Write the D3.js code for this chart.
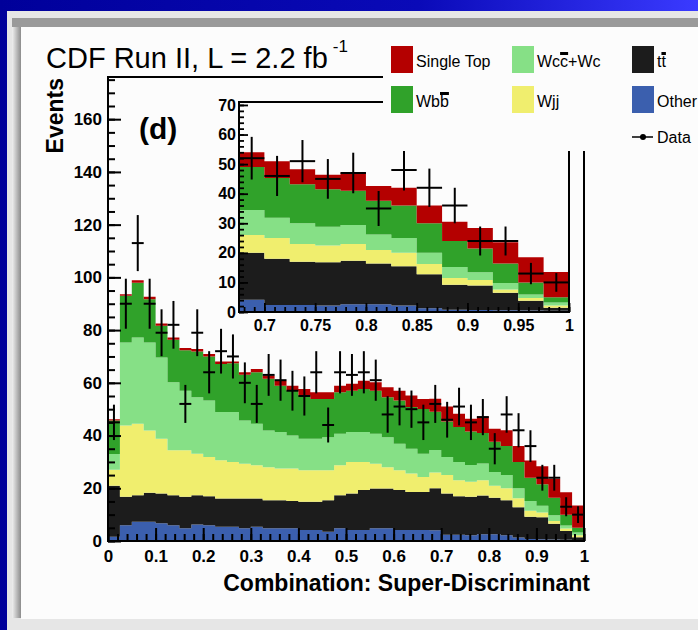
<!DOCTYPE html>
<html>
<head>
<meta charset="UTF-8">
<style>
  body { margin: 0; background: #0000a0; }
  svg { display: block; }
  text { font-family: 'Liberation Sans', Arial, sans-serif; fill: #000; }
</style>
</head>
<body>
<svg width="698" height="630"></svg>
<script src="https://d3js.org/d3.v7.min.js"></script>
<script>
// 40 bins of width 0.025 on the super-discriminant, stacked predictions
const binW = 0.025;
const other = [1.6, 6, 7.3, 7.3, 6.7, 6, 4.8, 6.3, 6, 5.4, 5.4, 4.8, 5.4, 4.8, 4.8, 4.8, 4.2, 4.2, 3.5, 4.8,
               4.2, 4.2, 4.8, 4.8, 4.2, 4.2, 4.2, 4.1, 2.4, 2.4, 2.2, 2.6, 2.6, 2.2, 1.3, 0.8, 0.7, 0.6, 0.5, 0.4];
const ttbar = [19.4, 10.8, 10.1, 11, 11.3, 11.4, 12, 11.1, 11, 10.7, 10.7, 11.3, 10.7, 10.7, 10.7, 10.4, 10.7, 10.7, 12, 12.6,
               13.8, 15.1, 15.1, 15.1, 15.1, 14.4, 14.4, 15.9, 15.6, 14.6, 14.6, 14.7, 13.8, 13.3, 11.5, 8.4, 8.3, 5.9, 3.3, 1.0];
const wjj   = [6, 27, 27.1, 23.6, 20.8, 17, 17.6, 15.7, 14.9, 14.5, 13.9, 13.2, 12.6, 12.5, 12, 12.3, 11.9, 11.9, 11.3, 11.3,
               12, 10.7, 9.4, 8.1, 7.5, 7, 5.7, 6, 7, 6, 5.7, 5.7, 4.6, 4.5, 3.4, 2.3, 1.8, 1.1, 0.9, 0.8];
const wcc   = [6, 31.5, 32.7, 33.4, 30.8, 25.8, 22.6, 21.4, 21.4, 18.3, 18.9, 16.4, 15.8, 13.9, 13.8, 12.5, 12, 12, 12.6, 12,
               11.3, 11.3, 11.4, 11.4, 10.1, 9.4, 8.8, 8.5, 6.9, 7, 6.3, 6.4, 5.2, 5, 3.8, 3.7, 2.6, 2.2, 1.2, 1.0];
const wbb   = [12.7, 17.7, 20.8, 16.4, 12, 16.1, 15.4, 17.4, 16.7, 18.2, 18.5, 17.4, 19.5, 19.6, 17.6, 17, 16.4, 15.1, 14.5, 15.7,
               15.7, 16.4, 16.3, 15.1, 16.4, 15.8, 17, 14.5, 13.4, 13.2, 12.7, 11.6, 11.4, 11, 10, 8.8, 8.1, 6.6, 4.1, 1.8];
const stop  = [0.5, 0.6, 0.9, 0.9, 0.9, 0.9, 0.8, 0.9, 0.9, 1.0, 0.7, 0.9, 1.2, 1.2, 1.9, 1.9, 2.5, 2.5, 2.5, 2.5,
               2.6, 3.1, 3.2, 3.8, 3.7, 4.4, 3.8, 5, 5.7, 5.1, 4.9, 6.2, 5, 6, 6, 6.5, 6.9, 7.2, 8.5, 8.5];
const dataCounts = [45, 90, 113, 90, 79, 82, 52, 79, 64, 72, 70, 60, 52, 63, 61, 57, 55, 64, 44, 64,
                    63, 64, 61, 48, 51, 50, 45, 52, 46, 51, 45, 47, 35, 48, 42, 36, 24, 24, 13, 10];

const keys = ["other", "ttbar", "wjj", "wcc", "wbb", "stop"];
const colors = {other: "#3b5fae", ttbar: "#1c1c1c", wjj: "#f0ee6e", wcc: "#86e086", wbb: "#30a22a", stop: "#b40000"};

// bar = index of the character that carries the anti-particle overline
const legendRows = [
  {key: "stop", label: "Single Top", col: 0, row: 0},
  {key: "wcc", label: "Wcc+Wc", bar: 2, col: 1, row: 0},
  {key: "ttbar", label: "tt", bar: 1, col: 2, row: 0},
  {key: "wbb", label: "Wbb", bar: 2, col: 0, row: 1},
  {key: "wjj", label: "Wjj", col: 1, row: 1},
  {key: "other", label: "Other", col: 2, row: 1}
];

const svg = d3.select("svg");

// ---- slide frame
const defs = svg.append("defs");
const bg = defs.append("linearGradient").attr("id", "bandGrad").attr("x1", 0).attr("x2", 1);
bg.append("stop").attr("offset", 0).attr("stop-color", "#00009a");
bg.append("stop").attr("offset", 0.6).attr("stop-color", "#0a0ab8");
bg.append("stop").attr("offset", 1).attr("stop-color", "#3a3aff");
const bev = defs.append("linearGradient").attr("id", "bevGrad").attr("x1", 0).attr("x2", 1);
bev.append("stop").attr("offset", 0).attr("stop-color", "#f0f0f0");
bev.append("stop").attr("offset", 1).attr("stop-color", "#8c8c8c");
svg.append("rect").attr("width", 698).attr("height", 630).attr("fill", "url(#bandGrad)");
svg.append("rect").attr("x", 7).attr("y", 11).attr("width", 691).attr("height", 619).attr("fill", "#e6e6e6");
svg.append("rect").attr("x", 12).attr("y", 18).attr("width", 9).attr("height", 600).attr("fill", "url(#bevGrad)");
svg.append("rect").attr("x", 12).attr("y", 18).attr("width", 686).attr("height", 9).attr("fill", "#9a9a9a");
svg.append("rect").attr("x", 21).attr("y", 27).attr("width", 677).attr("height", 592).attr("fill", "#fcfcfc");

// ---- main plot
const x = d3.scaleLinear().domain([0, 1]).range([108, 584]);
const y = d3.scaleLinear().domain([0, 176]).range([541, 77]);

// ---- inset
const xi = d3.scaleLinear().domain([0.675, 1]).range([239, 569]);
const yi = d3.scaleLinear().domain([0, 71]).range([312, 102]);

const rows = dataCounts.map((_, i) => ({other: other[i], ttbar: ttbar[i], wjj: wjj[i], wcc: wcc[i], wbb: wbb[i], stop: stop[i]}));
const series = d3.stack().keys(keys)(rows);

function drawStack(g, sx, sy, lo, hi) {
  const area = d3.area().curve(d3.curveStepAfter)
    .x(d => sx(d.e)).y0(d => sy(d.lo)).y1(d => sy(d.hi));
  series.forEach(s => {
    const pts = [];
    for (let i = lo; i <= hi; i++) pts.push({e: i * binW, lo: s[i][0], hi: s[i][1]});
    pts.push({e: (hi + 1) * binW, lo: s[hi][0], hi: s[hi][1]});
    g.append("path").attr("d", area(pts)).attr("fill", colors[s.key]);
  });
}

function drawData(g, sx, sy, lo, hi, w) {
  const idx = d3.range(lo, hi + 1);
  const pg = g.append("g").attr("stroke", "#000").attr("stroke-width", w);
  pg.selectAll(".ev").data(idx).join("line")
    .attr("x1", i => sx((i + 0.5) * binW)).attr("x2", i => sx((i + 0.5) * binW))
    .attr("y1", i => sy(dataCounts[i] - Math.sqrt(dataCounts[i])))
    .attr("y2", i => sy(dataCounts[i] + Math.sqrt(dataCounts[i])));
  pg.selectAll(".eh").data(idx).join("line")
    .attr("x1", i => sx(i * binW)).attr("x2", i => sx((i + 1) * binW))
    .attr("y1", i => sy(dataCounts[i])).attr("y2", i => sy(dataCounts[i]));
}

function drawAxes(g, sx, sy, o) {
  const bottom = sy.range()[0], left = sx.range()[0];
  const fmt = d3.format("~g");
  const styleAxis = (a, fs) => {
    a.select(".domain").remove();
    a.selectAll("text").attr("font-size", fs).attr("font-weight", "bold")
      .attr("font-family", "'Liberation Sans', Arial, sans-serif");
    a.selectAll("line").attr("stroke", "#000");
  };
  g.append("g").attr("transform", `translate(0,${bottom})`)
    .call(d3.axisBottom(sx).tickValues(o.xMinor).tickSize(-o.minLen).tickFormat(""))
    .call(a => { a.select(".domain").remove(); a.selectAll("line").attr("stroke", "#000").attr("stroke-width", o.sw); });
  g.append("g").attr("transform", `translate(${left},0)`)
    .call(d3.axisLeft(sy).tickValues(o.yMinor).tickSize(-o.minLen).tickFormat(""))
    .call(a => { a.select(".domain").remove(); a.selectAll("line").attr("stroke", "#000").attr("stroke-width", o.sw); });
  g.append("g").attr("transform", `translate(0,${bottom})`)
    .call(d3.axisBottom(sx).tickValues(o.xMajor).tickSize(-o.majLen).tickPadding(o.padX).tickFormat(fmt))
    .call(a => { styleAxis(a, o.fs); a.selectAll("line").attr("stroke-width", o.sw); });
  g.append("g").attr("transform", `translate(${left},0)`)
    .call(d3.axisLeft(sy).tickValues(o.yMajor).tickSize(-o.majLen).tickPadding(o.padY).tickFormat(fmt))
    .call(a => { styleAxis(a, o.fs); a.selectAll("line").attr("stroke-width", o.sw); });
  const [x0, x1] = sx.range(), [y0, y1] = sy.range();
  g.append("rect").attr("x", x0).attr("y", y1).attr("width", x1 - x0).attr("height", y0 - y1)
    .attr("fill", "none").attr("stroke", "#000").attr("stroke-width", 2);
}

const main = svg.append("g");
drawStack(main, x, y, 0, 39);
drawData(main, x, y, 0, 39, 2);
drawAxes(main, x, y, {
  xMajor: d3.range(0, 10.5, 1).map(d => d / 10), xMinor: d3.range(0, 50.5, 1).map(d => d / 50),
  yMajor: d3.range(0, 161, 20), yMinor: d3.range(0, 176, 5),
  majLen: 13, minLen: 7, fs: 17, padX: 9, padY: 6, sw: 2
});

const inset = svg.append("g");
inset.append("rect").attr("x", 239).attr("y", 102).attr("width", 330).attr("height", 210).attr("fill", "#fcfcfc");
drawStack(inset, xi, yi, 27, 39);
drawData(inset, xi, yi, 27, 39, 2);
drawAxes(inset, xi, yi, {
  xMajor: d3.range(14, 20.5, 1).map(d => d / 20), xMinor: d3.range(68, 100.5, 1).map(d => d / 100),
  yMajor: d3.range(0, 71, 10), yMinor: d3.range(0, 71, 2),
  majLen: 9, minLen: 5, fs: 16, padX: 8, padY: 3, sw: 1.8
});

// axis titles and labels
svg.append("text").attr("x", 590).attr("y", 591).attr("text-anchor", "end")
  .attr("font-size", 23).attr("font-weight", "bold").text("Combination: Super-Discriminant");
svg.append("text").attr("transform", "translate(63,78) rotate(-90)").attr("text-anchor", "end")
  .attr("font-size", 23).attr("font-weight", "bold").text("Events");
svg.append("text").attr("x", 139).attr("y", 139).attr("font-size", 30).attr("font-weight", "bold").text("(d)");

const title = svg.append("text").attr("x", 46).attr("y", 68).attr("font-size", 29);
title.append("tspan").text("CDF Run II, L = 2.2 fb");
title.append("tspan").attr("font-size", 17).attr("dx", 5).attr("dy", -16).text("-1");

// ---- legend
const leg = svg.append("g");
leg.append("rect").attr("x", 383).attr("y", 38).attr("width", 315).attr("height", 113).attr("fill", "#fcfcfc");
const colX = [391, 512, 632], rowY = [46, 86];
legendRows.forEach(r => {
  const lx = colX[r.col], ly = rowY[r.row];
  leg.append("rect").attr("x", lx).attr("y", ly).attr("width", 22).attr("height", 27).attr("fill", colors[r.key]);
  const t = leg.append("text").attr("x", lx + 25).attr("y", ly + 21).attr("font-size", 16).text(r.label);
  if (r.bar !== undefined) {
    const box = t.node().getExtentOfChar(r.bar);
    leg.append("rect").attr("x", box.x).attr("y", box.y - 1).attr("width", box.width).attr("height", 3).attr("fill", "#000");
  }
});
leg.append("line").attr("x1", 632).attr("x2", 653).attr("y1", 137).attr("y2", 137).attr("stroke", "#000").attr("stroke-width", 1.5);
leg.append("circle").attr("cx", 643).attr("cy", 137).attr("r", 3).attr("fill", "#000");
leg.append("text").attr("x", 657).attr("y", 143).attr("font-size", 16).text("Data");
</script>
</body>
</html>
